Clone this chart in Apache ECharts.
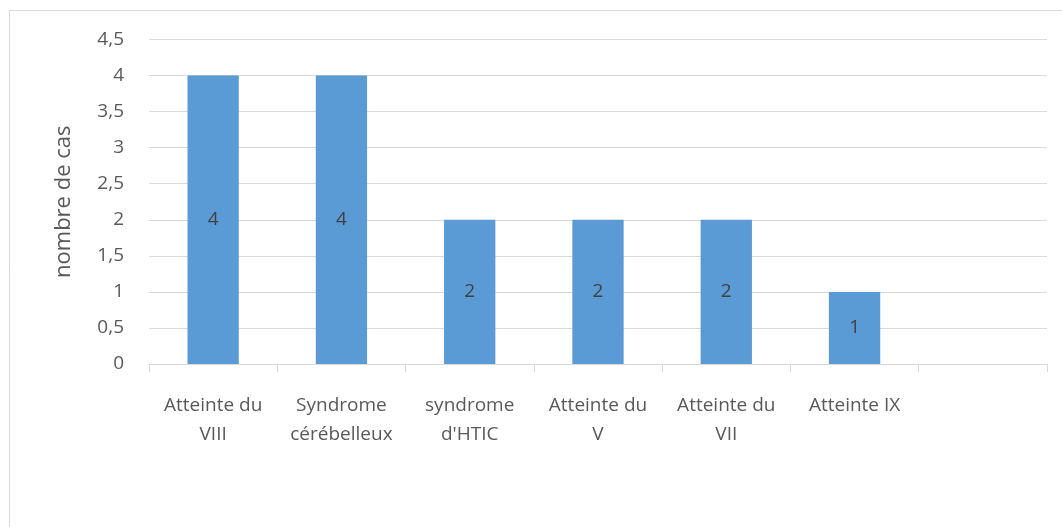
<!DOCTYPE html>
<html>
<head>
<meta charset="utf-8">
<script src="https://cdn.jsdelivr.net/npm/echarts@6/dist/echarts.min.js"></script>
<style>
  html, body { margin: 0; padding: 0; background: #ffffff; }
  #chart { width: 1062px; height: 527px; }
</style>
</head>
<body>
<div id="chart"></div>
<script>
// Clinical signs and number of cases
const categories = [
  'Atteinte du\nVIII',
  'Syndrome\ncérébelleux',
  "syndrome\nd'HTIC",
  'Atteinte du\nV',
  'Atteinte du\nVII',
  'Atteinte IX',
  ''
];
const cases = [4, 4, 2, 2, 2, 1, null];
const yTicks = { min: 0, max: 4.5, interval: 0.5 };
const yAxisTitle = 'nombre de cas';

const chart = echarts.init(document.getElementById('chart'), null, { renderer: 'canvas' });

const textColor = '#595959';
const fontFamily = '"Open Sans", "Noto Sans", sans-serif';

chart.setOption({
  animation: false,
  backgroundColor: '#ffffff',
  graphic: [{
    type: 'rect',
    shape: { x: 9.5, y: 10.5, width: 1070, height: 540 },
    style: { fill: 'none', stroke: '#d9d9d9', lineWidth: 1 },
    silent: true
  }],
  grid: { left: 149, right: 15, top: 39.5, bottom: 163, containLabel: false },
  xAxis: {
    type: 'category',
    data: categories,
    boundaryGap: true,
    axisLine: { show: true, lineStyle: { color: '#d9d9d9', width: 1 } },
    axisTick: { show: true, length: 8, alignWithLabel: false, lineStyle: { color: '#d9d9d9' } },
    axisLabel: {
      interval: 0,
      color: textColor,
      fontSize: 19,
      fontFamily: fontFamily,
      lineHeight: 29,
      margin: 27
    },
    splitLine: { show: false }
  },
  yAxis: {
    type: 'value',
    min: yTicks.min,
    max: yTicks.max,
    interval: yTicks.interval,
    name: yAxisTitle,
    nameLocation: 'middle',
    nameGap: 74,
    nameRotate: 90,
    nameTextStyle: { color: textColor, fontSize: 22, fontFamily: fontFamily },
    axisLine: { show: false },
    axisTick: { show: false },
    axisLabel: {
      color: textColor,
      fontSize: 19,
      fontFamily: fontFamily,
      margin: 25,
      formatter: v => String(v).replace('.', ',')
    },
    splitLine: { show: true, lineStyle: { color: '#d9d9d9', width: 1 } }
  },
  series: [{
    type: 'bar',
    data: cases,
    barWidth: '40%',
    itemStyle: { color: '#5b9bd5' },
    label: {
      show: true,
      position: 'inside',
      color: '#404040',
      fontSize: 19,
      fontFamily: fontFamily
    }
  }]
});
</script>
</body>
</html>
